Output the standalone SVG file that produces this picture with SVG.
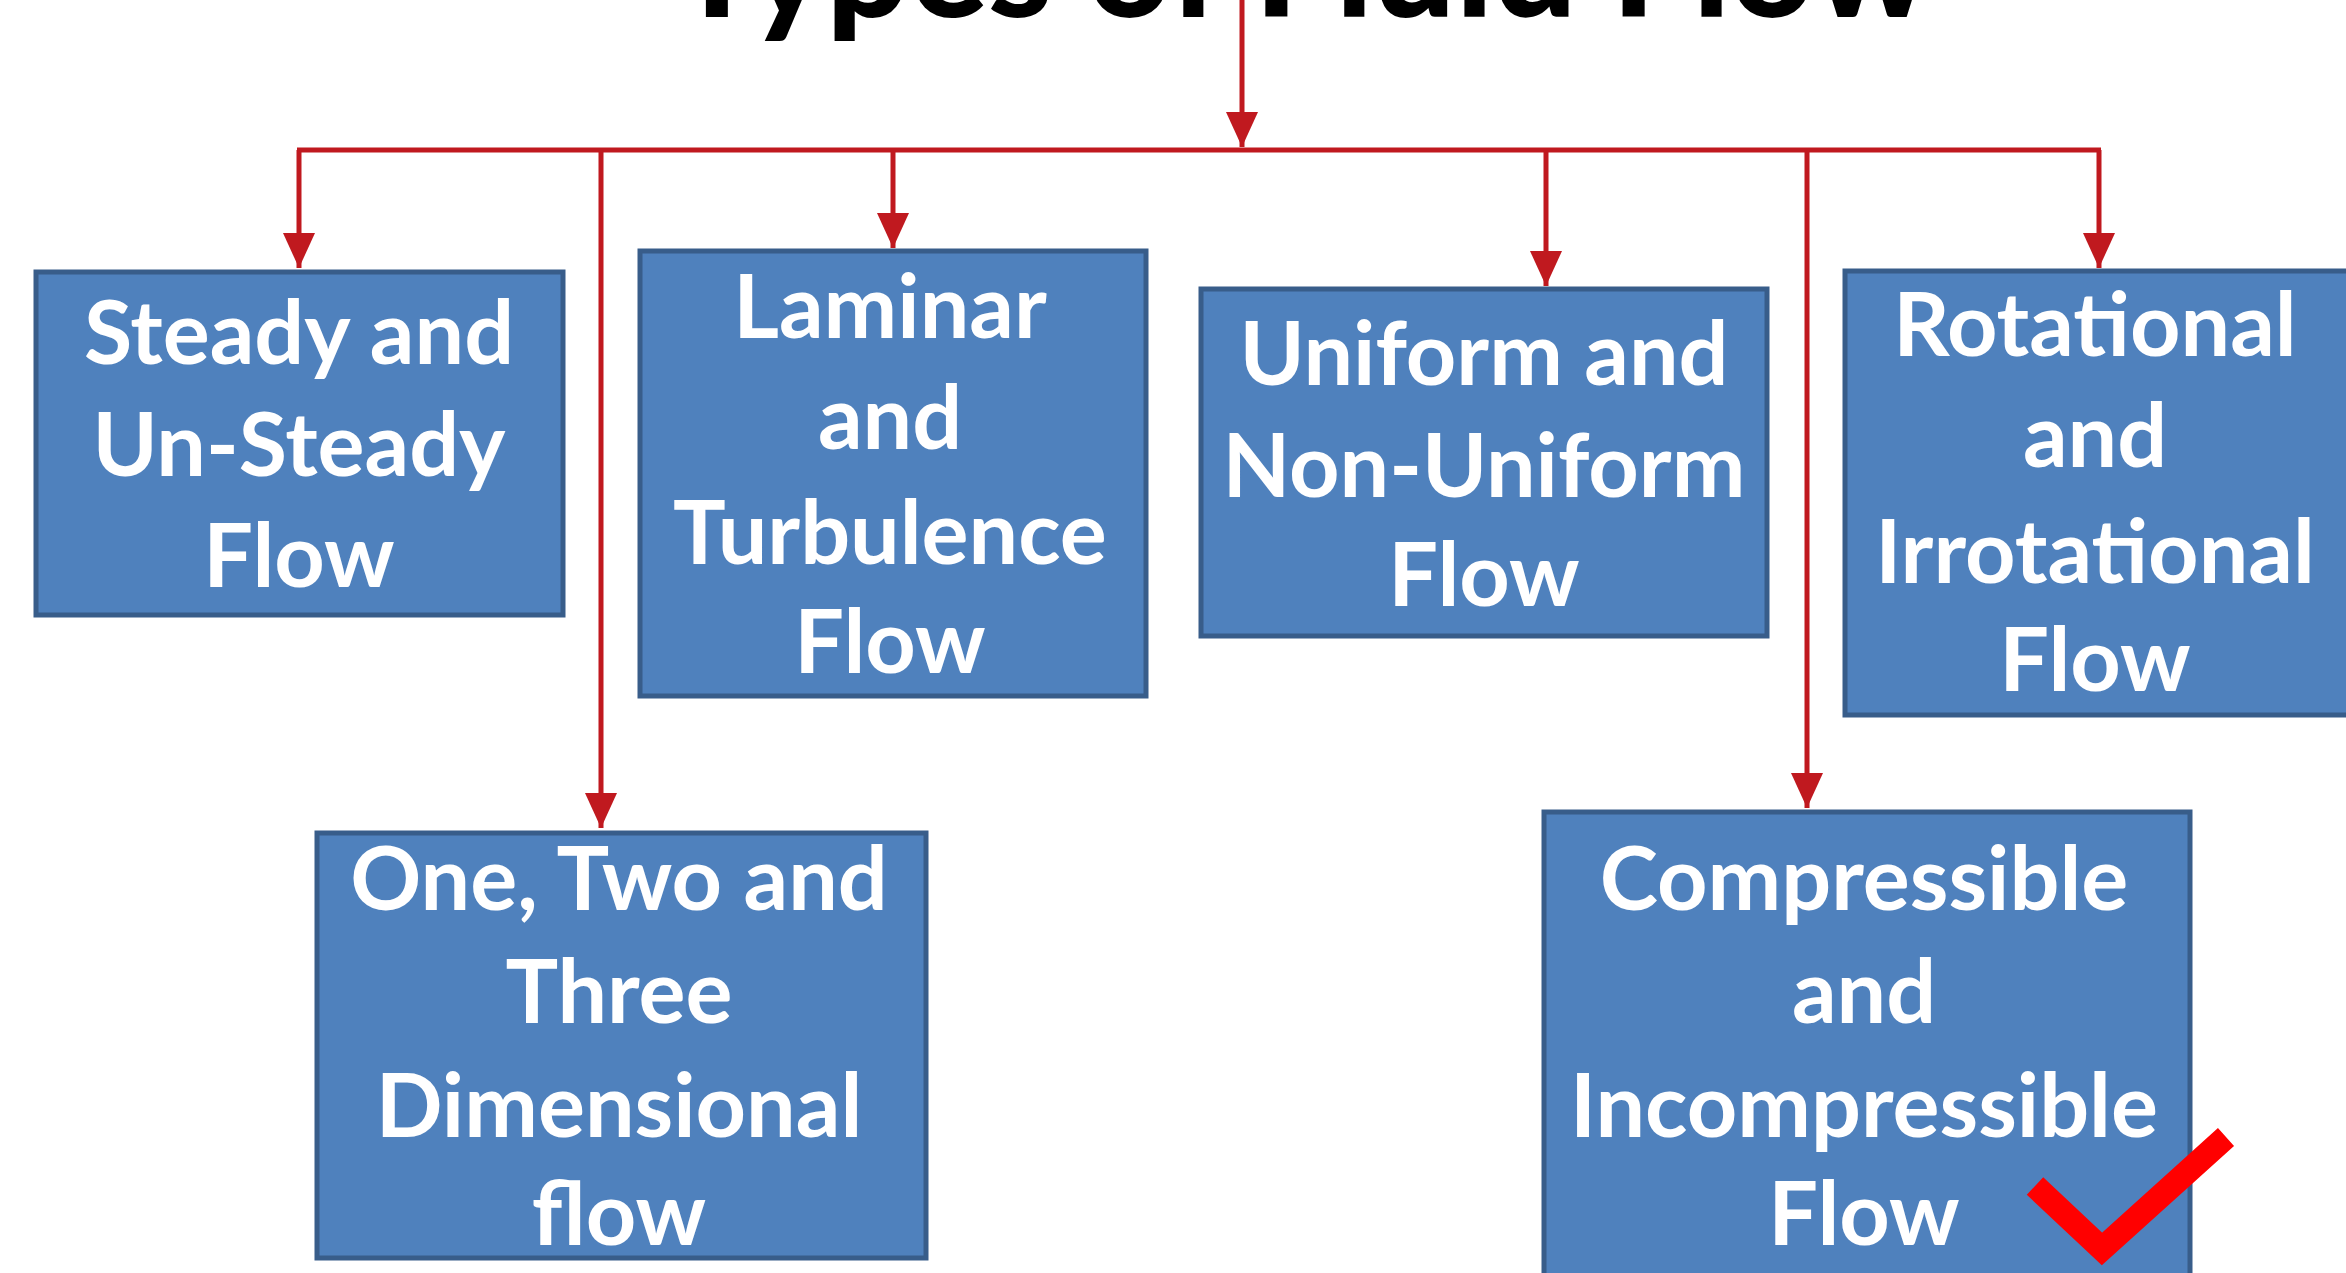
<svg xmlns="http://www.w3.org/2000/svg" width="2346" height="1273" viewBox="0 0 2346 1273">
<style>
.box{fill:#4F81BD;stroke:#385D8A;stroke-width:5}
.lbl{font-family:Lato,"Liberation Sans",sans-serif;font-weight:700;font-size:88px;fill:#FFFFFF;text-anchor:middle}
.title{font-family:Lato,"Liberation Sans",sans-serif;font-weight:900;font-size:146px;fill:#000000;text-anchor:middle}
.con{fill:none;stroke:#C0191F;stroke-width:5}
</style>
<defs>
<marker id="ah" markerWidth="8" markerHeight="8" refX="7" refY="4" orient="auto" markerUnits="strokeWidth">
<path d="M0,0.8 L7,4 L0,7.2 Z" fill="#C0191F"/>
</marker>
</defs>
<rect x="0" y="0" width="2346" height="1273" fill="#FFFFFF"/>
<text class="title" x="1302" y="17">Types of Fluid Flow</text>
<g id="connectors">
<line class="con" x1="1242" y1="0" x2="1242" y2="147" marker-end="url(#ah)"/>
<line class="con" x1="297" y1="150" x2="2101" y2="150"/>
<line class="con" x1="299" y1="150" x2="299" y2="268" marker-end="url(#ah)"/>
<line class="con" x1="601" y1="150" x2="601" y2="828" marker-end="url(#ah)"/>
<line class="con" x1="893" y1="150" x2="893" y2="248" marker-end="url(#ah)"/>
<line class="con" x1="1546" y1="150" x2="1546" y2="286" marker-end="url(#ah)"/>
<line class="con" x1="1807" y1="150" x2="1807" y2="808" marker-end="url(#ah)"/>
<line class="con" x1="2099" y1="150" x2="2099" y2="268" marker-end="url(#ah)"/>
</g>
<g id="n1"><rect class="box" x="36" y="272" width="527" height="343"/>
<text class="lbl" x="299"><tspan x="299" y="364">Steady and</tspan><tspan x="299" y="476">Un-Steady</tspan><tspan x="299" y="587">Flow</tspan></text></g>
<g id="n2"><rect class="box" x="640" y="251" width="506" height="445"/>
<text class="lbl" x="890"><tspan x="890" y="338">Laminar</tspan><tspan x="890" y="449">and</tspan><tspan x="890" y="564">Turbulence</tspan><tspan x="890" y="673">Flow</tspan></text></g>
<g id="n3"><rect class="box" x="1201" y="289" width="566" height="347"/>
<text class="lbl" x="1484"><tspan x="1484" y="385">Uniform and</tspan><tspan x="1484" y="497">Non-Uniform</tspan><tspan x="1484" y="606">Flow</tspan></text></g>
<g id="n4"><rect class="box" x="1845" y="271" width="510" height="444"/>
<text class="lbl" x="2095"><tspan x="2095" y="356">Rotational</tspan><tspan x="2095" y="467">and</tspan><tspan x="2095" y="583">Irrotational</tspan><tspan x="2095" y="691">Flow</tspan></text></g>
<g id="n5"><rect class="box" x="317" y="833" width="609" height="425"/>
<text class="lbl" x="619"><tspan x="619" y="910">One, Two and</tspan><tspan x="619" y="1023">Three</tspan><tspan x="619" y="1137">Dimensional</tspan><tspan x="619" y="1245">flow</tspan></text></g>
<g id="n6"><rect class="box" x="1544" y="812" width="646" height="470"/>
<text class="lbl" x="1864"><tspan x="1864" y="910">Compressible</tspan><tspan x="1864" y="1023">and</tspan><tspan x="1864" y="1137">Incompressible</tspan><tspan x="1864" y="1245">Flow</tspan></text></g>
<polyline id="check" points="2035,1186 2102,1249 2226,1137" fill="none" stroke="#FF0000" stroke-width="24" stroke-linejoin="miter" stroke-linecap="butt"/>
</svg>
